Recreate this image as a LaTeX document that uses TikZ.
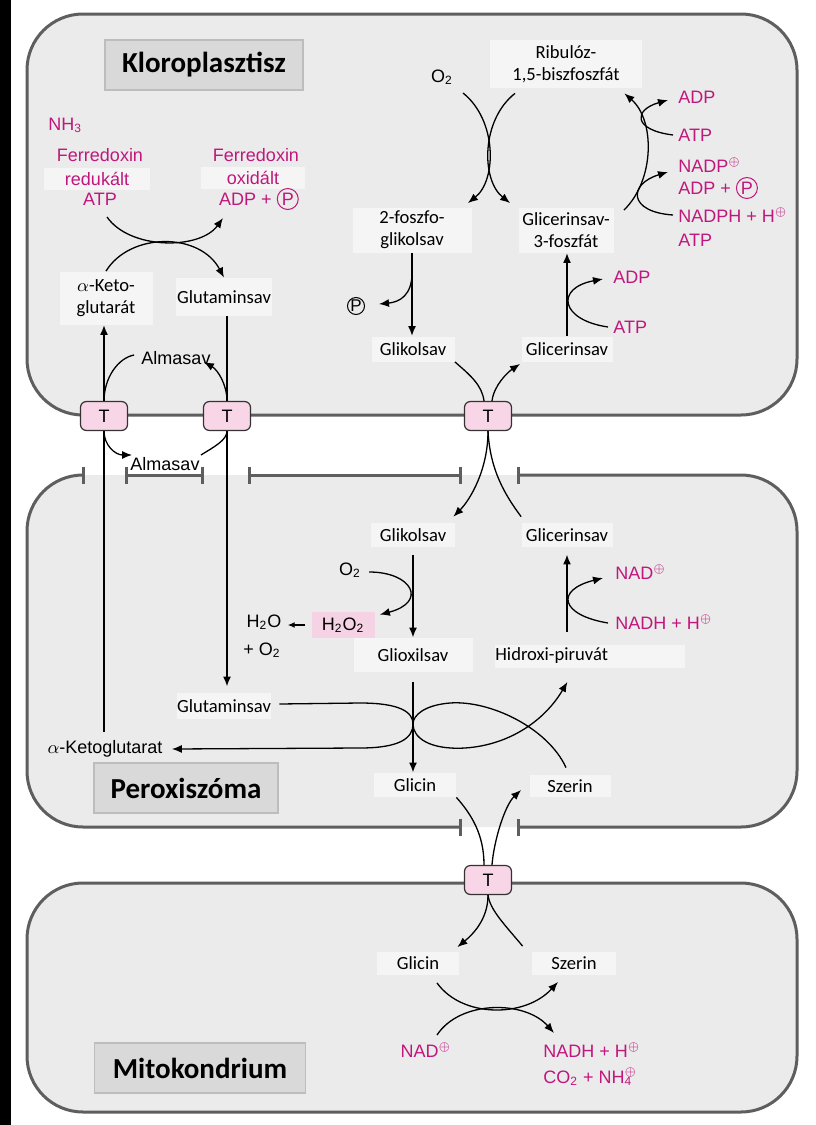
\documentclass[tikz,border=0pt]{standalone}
\usepackage{fontspec}
\setmainfont{Carlito}
\newfontfamily\arial{Liberation Sans}
\usepackage{tikz}
\usetikzlibrary{arrows.meta,positioning,calc}
\definecolor{mag}{HTML}{C0177C}
\definecolor{cellfill}{HTML}{EBEBEB}
\definecolor{membr}{HTML}{5E5E5E}
\definecolor{titlefill}{HTML}{D9D9D9}
\definecolor{titleline}{HTML}{BDBDBD}
\definecolor{lblfill}{HTML}{F5F5F5}
\definecolor{tpink}{HTML}{F8D6E7}
\definecolor{hpink}{HTML}{F6D2E5}
\newcommand{\sbs}[1]{\textsubscript{#1}}
\newcommand{\pkor}{\tikz[baseline=(pk.base)]\node[circle, draw=mag, text=mag, anchor=center, inner sep=0pt, minimum size=10.5pt, line width=0.5pt] (pk) {P};}
\tikzset{
  >={Latex[length=5pt,width=4pt]},
  membrane/.style={draw=membr, line width=1.5pt},
  bars/.style={{Bar[width=8.5pt]}-{Bar[width=8.5pt]}},
  titlebox/.style={draw=titleline, fill=titlefill, line width=0.8pt, inner sep=0pt, minimum height=25pt, font=\fontsize{14.5}{16}\selectfont\bfseries},
  lbl/.style={fill=lblfill, inner sep=0pt, align=center, font=\fontsize{9.3}{11}\selectfont},
  met/.style={text=mag, inner sep=0pt, font=\arial\fontsize{9}{11}\selectfont},
  blk/.style={inner sep=0pt, font=\arial\fontsize{9}{11}\selectfont},
  transp/.style={draw=black!80, fill=tpink, line width=0.6pt, rounded corners=3pt, minimum width=23.5pt, minimum height=14.5pt, inner sep=0pt, font=\arial\fontsize{9}{10}\selectfont},
  pkorbox/.style={circle, draw, inner sep=0pt, minimum size=8.5pt, line width=0.5pt, font=\arial\fontsize{8.5}{10}\selectfont},
  conn/.style={->, line width=0.65pt},
  line/.style={line width=0.65pt},
  mainconn/.style={->, line width=0.9pt},
}

\begin{document}
\begin{tikzpicture}[x=0.5pt, y=-0.5pt]
    \useasboundingbox (0,0) rectangle (815,1125);
    \fill[white] (0,0) rectangle (815,1125);
    \fill[black] (0,0) rectangle (11,1125);

    % compartments
    \draw[membrane, fill=cellfill, rounded corners=28pt] (27,14) rectangle (797,415);
    \fill[cellfill, rounded corners=28pt] (27,475) rectangle (797,827);
    \draw[membrane, rounded corners=28pt, bars] (82,475) -- (27,475) -- (27,827) -- (462,827);
    \draw[membrane, rounded corners=28pt, bars] (517,827) -- (797,827) -- (797,475) -- (517,475);
    \draw[membrane, bars] (125,475) -- (204,475);
    \draw[membrane, bars] (248,475) -- (462,475);
    \draw[membrane, fill=cellfill, rounded corners=28pt] (27,883) rectangle (797,1112);

    % chloroplast
    \node[titlebox, minimum width=99pt] (kloro) at (204,65) {Kloroplasztisz};
    \node[met, anchor=west] (nhh) at (48,125) {NH\sbs{3}};
    \node[met] (fdred) at (100,155) {Ferredoxin};
    \node[lbl, met, minimum width=53pt, minimum height=11pt] (red) at (97,179) {redukált};
    \node[met] (atpa) at (100,199) {ATP};
    \node[met] (fdox) at (256,155) {Ferredoxin};
    \node[lbl, met, minimum width=52pt, minimum height=11pt] (ox) at (253,178) {oxidált};
    \node[met] (adpa) at (259,199) {ADP + \pkor};
    \node[lbl, minimum width=46.5pt, minimum height=26.5pt] (keto) at (106,298) {$\alpha$-Keto-\\glutarát};
    \node[lbl, minimum width=48pt, minimum height=19pt] (glua) at (224,297) {Glutaminsav};
    \node[blk] (almi) at (176,358) {Almasav};
    \node[blk] (oxa) at (442,77) {O\sbs{2}};
    \node[lbl, minimum width=76pt, minimum height=24pt] (rubp) at (566,64) {Ribulóz-\\1,5-biszfoszfát};
    \node[lbl, minimum width=59.5pt, minimum height=22.5pt] (pgl) at (412,230) {2-foszfo-\\glikolsav};
    \node[lbl, minimum width=47.5pt, minimum height=22.5pt] (pga) at (566,230) {Glicerinsav-\\3-foszfát};
    \node[met, anchor=west] (adpb) at (678,97) {ADP};
    \node[met, anchor=west] (atpb) at (678,135) {ATP};
    \node[met, anchor=west] (nadp) at (678,165) {NADP$^{\oplus}$};
    \node[met, anchor=west] (adpc) at (678,188) {ADP + \pkor};
    \node[met, anchor=west] (nadph) at (678,215) {NADPH + H$^{\oplus}$};
    \node[met, anchor=west] (atpc) at (678,240) {ATP};
    \node[pkorbox] (pki) at (356,306) {P};
    \node[lbl, minimum width=41.5pt, minimum height=12.5pt] (glika) at (413,349) {Glikolsav};
    \node[lbl, minimum width=45.5pt, minimum height=12.5pt] (glica) at (567,349) {Glicerinsav};
    \node[met, anchor=west] (adpd) at (613,277) {ADP};
    \node[met, anchor=west] (atpd) at (613,327) {ATP};
    \node[blk] (almo) at (165,464) {Almasav};

    % peroxisome
    \node[lbl, minimum width=42pt, minimum height=12pt] (glikb) at (413,535) {Glikolsav};
    \node[lbl, minimum width=45.5pt, minimum height=12pt] (glicb) at (567,535) {Glicerinsav};
    \node[blk] (oxb) at (350,570) {O\sbs{2}};
    \node[blk, fill=hpink, minimum width=31.5pt, minimum height=13pt] (hho) at (343,625) {H\sbs{2}O\sbs{2}};
    \node[blk] (hoh) at (264,622) {H\sbs{2}O};
    \node[blk] (oxc) at (262,650) {+ O\sbs{2}};
    \node[lbl, minimum width=59.5pt, minimum height=17pt] (gliox) at (413,655) {Glioxilsav};
    \node[lbl, anchor=west, text width=95pt, align=left, minimum height=11.5pt] (hidr) at (495,656) {Hidroxi-piruvát};
    \node[met, anchor=west] (nada) at (615,572) {NAD$^{\oplus}$};
    \node[met, anchor=west] (nadha) at (615,622) {NADH + H$^{\oplus}$};
    \node[lbl, minimum width=46.5pt, minimum height=13pt] (glub) at (224,706) {Glutaminsav};
    \node[blk] (ketob) at (105,749) {$\alpha$-Ketoglutarat};
    \node[titlebox, minimum width=92pt] (perox) at (186,788) {Peroxiszóma};
    \node[lbl, minimum width=41pt, minimum height=12pt] (glyb) at (415,785) {Glicin};
    \node[lbl, minimum width=40.5pt, minimum height=11pt] (serb) at (570,786) {Szerin};

    % mitochondrion
    \node[lbl, minimum width=41pt, minimum height=11.5pt] (glyc) at (418,963) {Glicin};
    \node[lbl, minimum width=42pt, minimum height=11.5pt] (serc) at (574,963) {Szerin};
    \node[met] (nadb) at (426,1050) {NAD$^{\oplus}$};
    \node[met, anchor=west] (nadhb) at (543,1050) {NADH + H$^{\oplus}$};
    \node[met, anchor=west] (coo) at (543,1077) {CO\sbs{2} + NH\rlap{\sbs{4}}$^{\oplus}$};
    \node[titlebox, minimum width=105.5pt] (mito) at (200,1068) {Mitokondrium};

    % transporters
    \node[transp] (t1) at (104,416) {T};
    \node[transp] (t2) at (227,416) {T};
    \node[transp] (t3) at (488,416) {T};
    \node[transp] (t4) at (488,880) {T};

    % chloroplast arrows
    \draw[conn] ([shift={(7,18)}]atpa.center) .. controls (130,250) and (200,250) .. ([shift={(-36,19)}]adpa.center);
    \draw[conn] (keto.north) .. controls (130,232) and (200,232) .. (glua.north);
    \draw[line, line width=0.9pt] (glua.south -| t2) -- (t2.north);
    \draw[mainconn, shorten >=3pt] (t2.south) -- (glub.north -| t2);
    \draw[line, line width=0.9pt, shorten <=4pt] (ketob.north -| t1) -- (t1.south);
    \draw[mainconn] (t1.north) -- (keto.south -| t1);
    \draw[line] (t1.north) .. controls (104,378) and (118,358) .. ([shift={(-7,-3)}]almi.west);
    \draw[conn] (t2.north) .. controls (227,385) and (218,370) .. ([shift={(-7,4)}]almi.east);
    \draw[conn] (t1.south) .. controls (104,445) and (115,455) .. ([shift={(2,-2)}]almo.north west);
    \draw[line] ([shift={(1,-2)}]almo.north east) .. controls (214,447) and (227,440) .. (t2.south);

    \draw[conn] ([shift={(21,16)}]oxa.center) .. controls (497,120) and (497,180) .. ([shift={(-4,-4)}]pgl.north east);
    \draw[conn] ([shift={(-51,5)}]rubp.south) .. controls (481,120) and (481,180) .. ([shift={(-8,-4)}]pga.north west);
    \draw[conn] ([shift={(10,3)}]pga.north east) .. controls (655,180) and (655,120) .. ([shift={(-18,5)}]rubp.south east);
    \draw[conn] ([xshift=-2.5pt]atpb.west) .. controls (633,130) and (633,110) .. ([shift={(-10,3)}]adpb.west);
    \draw[conn] ([xshift=-2.5pt]nadph.west) .. controls (628,212) and (628,184) .. ([shift={(-10,7)}]nadp.west);
    \draw[mainconn] (pgl.south) -- (pgl.south |- glika.north);
    \draw[conn] ([yshift=-10pt]pgl.south) .. controls (412,295) and (400,302) .. ([shift={(14,-2)}]pki.east);
    \draw[mainconn] (glica.north) -- (glica.north |- pga.south);
    \draw[conn] ([xshift=-2.5pt]atpd.west) .. controls (560,320) and (555,288) .. ([shift={(-10,2)}]adpd.west);
    \draw[line] (glika.south east) .. controls (470,375) and (482,385) .. ([xshift=-2pt]t3.north);
    \draw[conn] ([xshift=2pt]t3.north) .. controls (494,385) and (508,372) .. ([shift={(-1,2)}]glica.south west);

    % peroxisome arrows
    \draw[conn] (t3.south) .. controls (488,470) and (470,500) .. ([shift={(-2,-6)}]glikb.north east);
    \draw[line] ([shift={(0,-6)}]glicb.north west) .. controls (505,495) and (490,470) .. (t3.south);
    \draw[mainconn, shorten <=4pt] (glikb.south) -- (gliox.north);
    \draw[conn] ([shift={(8,2)}]oxb.east) .. controls (412,572) and (428,602) .. ([shift={(5,3)}]hho.north east);
    \draw[conn, {Latex[length=3.5pt,width=3pt]}-, shorten <=3pt, shorten >=3pt] (hoh.east |- hho.west) -- (hho.west);
    \draw[mainconn, shorten <=6pt, shorten >=3.5pt] (glicb.south |- hidr.north) -- (glicb.south);
    \draw[conn] ([shift={(-7,1)}]nadha.west) .. controls (560,615) and (555,590) .. ([shift={(-12,6)}]nada.west);
    \draw[mainconn, shorten <=5pt] (gliox.south) -- (glyb.north -| gliox.south);
    \draw[conn] ([shift={(8,-2)}]glub.east) -- (360,703) .. controls (400,703) and (413,712) .. (413,724)
        .. controls (413,738) and (400,748) .. (360,748) -- ([xshift=4.5pt]ketob.east);
    \draw[conn] ([shift={(-4,-7)}]serb.north) .. controls (548,728) and (490,700) .. (450,703)
        .. controls (425,705) and (413,715) .. (413,724) .. controls (413,738) and (430,750) .. (465,748)
        .. controls (510,745) and (545,720) .. ([shift={(-23,14)}]hidr.south);
    \draw[line] (glyb.south east) .. controls (472,815) and (484,835) .. ([xshift=-2pt]t4.north);
    \draw[conn] ([xshift=2pt]t4.north) .. controls (494,840) and (505,805) .. ([shift={(-8,4)}]serb.west);

    % mitochondrion arrows
    \draw[conn] (t4.south) .. controls (488,920) and (472,935) .. ([shift={(-2,-4)}]glyc.north east);
    \draw[line] ([shift={(-9,-5)}]serc.north west) .. controls (505,925) and (490,910) .. (t4.south);
    \draw[conn] ([shift={(11,-15)}]nadb.center) .. controls (460,1000) and (525,1000) .. ([shift={(11,-17)}]nadhb.west);
    \draw[conn] ([shift={(19,8)}]glyc.south) .. controls (462,1018) and (525,1018) .. ([shift={(-16,7)}]serc.south);
\end{tikzpicture}
\end{document}
